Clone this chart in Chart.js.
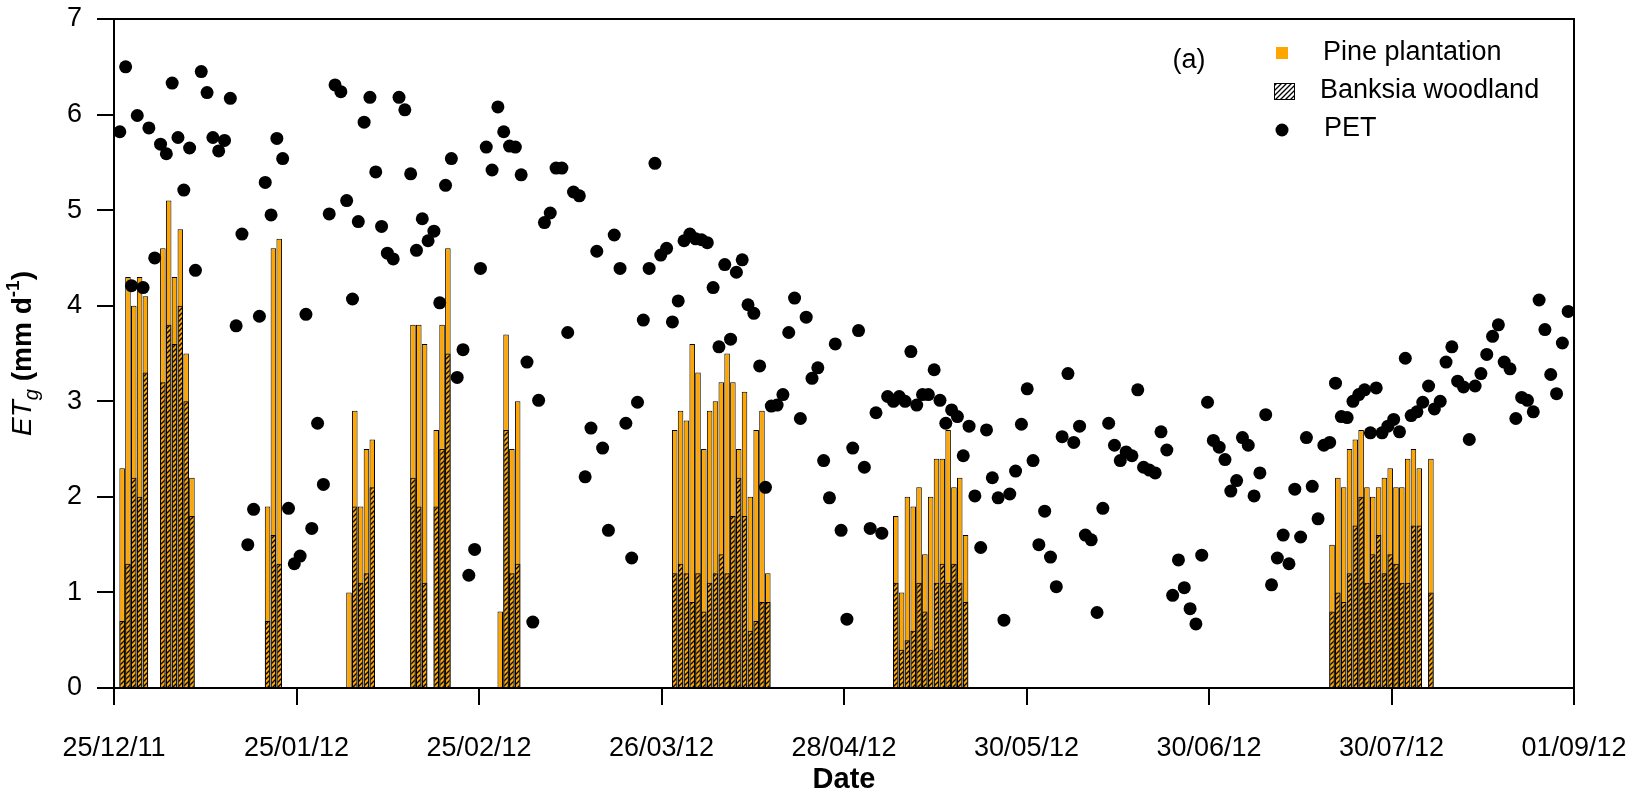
<!DOCTYPE html>
<html>
<head>
<meta charset="utf-8">
<script src="https://cdn.jsdelivr.net/npm/chart.js@4.4.0/dist/chart.umd.min.js"></script>
<style>
html,body{margin:0;padding:0;background:#fff;}
canvas{display:block;}
</style>
</head>
<body>
<canvas id="c" width="1632" height="793"></canvas>
<script>
// ---------- DATA ----------
const tickLabels = ["25/12/11","25/01/12","25/02/12","26/03/12","28/04/12","30/05/12","30/06/12","30/07/12","01/09/12"];
const axisDays = 251; // 25/12/11 -> 01/09/12

// PET, one value per day from 26/12/11 (day 1) to 31/08/12 (day 250)
const petValues = [
5.82,6.50,4.21,5.99,4.19,5.86,4.50,5.69,5.59,6.33,
5.76,5.21,5.65,4.37,6.45,6.23,5.76,5.62,5.73,6.17,
3.79,4.75,1.50,1.87,3.89,5.29,4.95,5.75,5.54,1.88,
1.30,1.38,3.91,1.67,2.77,2.13,4.96,6.31,6.24,5.10,
4.07,4.88,5.92,6.18,5.40,4.83,4.55,4.49,6.18,6.05,
5.38,4.58,4.91,4.68,4.78,4.03,5.26,5.54,3.25,3.54,
1.18,1.45,4.39,5.66,5.42,6.08,5.82,5.67,5.66,5.37,
3.41,0.69,3.01,4.87,4.97,5.44,5.44,3.72,5.19,5.15,
2.21,2.72,4.57,2.51,1.65,4.74,4.39,2.77,1.36,2.99,
3.85,4.39,5.49,4.53,4.60,3.83,4.05,4.68,4.75,4.70,
4.69,4.66,4.19,3.57,4.43,3.65,4.35,4.48,4.01,3.92,
3.37,2.10,2.95,2.96,3.07,3.72,4.08,2.82,3.88,3.24,
3.35,2.38,1.99,3.60,1.65,0.72,2.51,3.74,2.31,1.67,
2.88,1.62,3.05,3.00,3.05,3.00,3.52,2.96,3.07,3.07,
3.33,3.01,2.77,2.91,2.84,2.43,2.74,2.01,1.47,2.70,
2.20,1.99,0.71,2.03,2.27,2.76,3.13,2.38,1.50,1.85,
1.37,1.06,2.63,3.29,2.57,2.74,1.60,1.55,0.79,1.88,
2.77,2.54,2.38,2.47,2.43,3.12,2.31,2.28,2.25,2.68,
2.49,0.97,1.34,1.05,0.83,0.67,1.39,2.99,2.59,2.52,
2.39,2.06,2.17,2.62,2.54,2.01,2.25,2.86,1.08,1.36,
1.60,1.30,2.08,1.58,2.62,2.11,1.77,2.54,2.57,3.19,
2.84,2.83,3.00,3.07,3.12,2.67,3.14,2.67,2.74,2.81,
2.68,3.45,2.85,2.89,2.99,3.16,2.92,3.00,3.41,3.57,
3.21,3.15,2.60,3.16,3.29,3.49,3.68,3.80,3.41,3.34,
2.82,3.04,3.01,2.89,4.06,3.75,3.28,3.08,3.61,3.94
];

// Days (from 25/12/11) on which ETg was measured
const barDays = [
1,2,3,4,5, 8,9,10,11,12,13, 26,27,28,
40,41,42,43,44, 51,52,53, 55,56,57, 66,67,68,69,
96,97,98,99,100,101,102,103,104,105,106,107,108,109,110,111,112,
134,135,136,137,138,139,140,141,142,143,144,145,146,
209,210,211,212,213,214,215,216,217,218,219,220,221,222,223,224, 226
];
const pineValues = [
2.3,4.3,4.0,4.3,4.1, 4.6,5.1,4.3,4.8,3.5,2.2, 1.9,4.6,4.7,
1.0,2.9,1.9,2.5,2.6, 3.8,3.8,3.6, 2.7,3.8,4.6, 0.8,3.7,2.5,3.0,
2.7,2.9,2.8,3.6,3.3,2.5,2.9,3.0,3.2,3.5,3.2,2.5,3.1,2.0,2.7,2.9,1.2,
1.8,1.0,2.0,1.9,2.1,1.4,2.0,2.4,2.4,2.7,2.1,2.2,1.6,
1.5,2.2,2.1,2.5,2.6,2.7,2.1,2.0,2.1,2.2,2.3,2.1,2.1,2.4,2.5,2.3, 2.4
];
const banksiaValues = [
0.7,1.3,2.2,2.0,3.3, 3.2,3.8,3.6,4.0,3.0,1.8, 0.7,1.6,1.3,
null,1.9,1.1,1.2,2.1, 2.2,1.9,1.1, 1.9,2.5,3.5, null,2.7,1.2,1.3,
1.2,1.3,1.2,0.9,1.2,0.8,1.1,1.2,1.4,1.2,1.8,2.2,1.8,0.6,0.7,0.9,0.9,
1.1,0.4,0.5,0.6,1.1,0.8,0.4,1.1,1.3,1.1,1.3,1.1,0.9,
0.8,1.0,0.9,1.2,1.7,2.0,1.1,1.4,1.6,1.2,1.4,1.3,1.1,1.1,1.7,1.7, 1.0
];
const seriesNames = ["Pine plantation","Banksia woodland","PET"];

// ---------- STYLE ----------
const FONT = "'Liberation Sans', Arial, Helvetica, sans-serif";
const ORANGE = "#FFA500";
Chart.defaults.font.family = FONT;
Chart.defaults.color = "#000";

const canvas = document.getElementById('c');
const mainCtx = canvas.getContext('2d');

function makeHatch() {
  const n = 5;
  const pc = document.createElement('canvas');
  pc.width = n; pc.height = n;
  const p = pc.getContext('2d');
  p.strokeStyle = '#000';
  p.lineWidth = 1.3;
  p.beginPath();
  p.moveTo(0,n); p.lineTo(n,0);
  p.moveTo(-1,1); p.lineTo(1,-1);
  p.moveTo(n-1,n+1); p.lineTo(n+1,n-1);
  p.stroke();
  return mainCtx.createPattern(pc, 'repeat');
}
const hatch = makeHatch();

const BAR_SHIFT = 0.4;
const pineData = barDays.map((d,i)=>({x: d + BAR_SHIFT, y: pineValues[i]}));
const banksiaData = barDays.map((d,i)=>({x: d + BAR_SHIFT, y: banksiaValues[i]}));
const petData = petValues.map((v,i)=>({x: i + 1, y: v}));

const framePlugin = {
  id: 'frame',
  afterDraw(chart) {
    const {ctx, chartArea: a} = chart;
    ctx.save();
    ctx.strokeStyle = '#000';
    ctx.lineWidth = 2;
    ctx.beginPath();
    ctx.moveTo(a.left, a.top);
    ctx.lineTo(a.right, a.top);
    ctx.lineTo(a.right, a.bottom);
    ctx.stroke();

    // ---- legend ----
    ctx.fillStyle = '#000';
    ctx.font = "27px " + FONT;
    ctx.textBaseline = 'middle';
    ctx.textAlign = 'center';
    ctx.fillText('(a)', 1189, 61);
    ctx.textAlign = 'left';
    // pine
    ctx.fillStyle = ORANGE;
    ctx.fillRect(1276, 47, 12, 12);
    ctx.fillStyle = '#000';
    ctx.fillText(seriesNames[0], 1323, 53);
    // banksia
    ctx.fillStyle = '#fff';
    ctx.fillRect(1274, 83, 20, 16);
    ctx.fillStyle = hatch;
    ctx.fillRect(1274, 83, 20, 16);
    ctx.strokeStyle = '#000';
    ctx.lineWidth = 1;
    ctx.strokeRect(1274.5, 83.5, 20, 16);
    ctx.fillStyle = '#000';
    ctx.fillText(seriesNames[1], 1320, 91);
    // PET
    ctx.beginPath();
    ctx.arc(1282, 130, 6.5, 0, Math.PI*2);
    ctx.fill();
    ctx.fillText(seriesNames[2], 1324, 129);

    // ---- axis titles ----
    ctx.textAlign = 'center';
    ctx.textBaseline = 'alphabetic';
    ctx.font = "bold 29px " + FONT;
    ctx.fillText('Date', (a.left + a.right)/2, 788);

    // y title (rich text, rotated)
    const segs = [
      {t:'ET', f:"italic 28px " + FONT, dy:0},
      {t:'g', f:"italic 20px " + FONT, dy:7},
      {t:' ', f:"28px " + FONT, dy:0},
      {t:'(mm d', f:"bold 28px " + FONT, dy:0},
      {t:'-1', f:"bold 19px " + FONT, dy:-12},
      {t:')', f:"bold 28px " + FONT, dy:0}
    ];
    let L = 0;
    segs.forEach(s=>{ ctx.font = s.f; s.w = ctx.measureText(s.t).width; L += s.w; });
    ctx.translate(31, (a.top + a.bottom)/2);
    ctx.rotate(-Math.PI/2);
    ctx.textAlign = 'left';
    let x = -L/2;
    segs.forEach(s=>{ ctx.font = s.f; ctx.fillText(s.t, x, s.dy); x += s.w; });
    ctx.restore();
  }
};

new Chart(canvas, {
  type: 'bar',
  data: {
    datasets: [
      {
        type: 'scatter', label: seriesNames[2], data: petData,
        backgroundColor: '#000', borderWidth: 0, pointRadius: 6.5, pointHoverRadius: 6.5,
        order: 0
      },
      {
        type: 'bar', label: seriesNames[1], data: banksiaData,
        backgroundColor: hatch, borderColor: '#000', borderWidth: 1,
        grouped: false, barPercentage: 0.95, categoryPercentage: 1,
        order: 1
      },
      {
        type: 'bar', label: seriesNames[0], data: pineData,
        backgroundColor: ORANGE, borderColor: '#000', borderWidth: 1,
        grouped: false, barPercentage: 0.95, categoryPercentage: 1,
        order: 2
      }
    ]
  },
  options: {
    responsive: false,
    animation: false,
    devicePixelRatio: 1,
    layout: { padding: { top: 19, right: 58, left: 0, bottom: 0 } },
    plugins: { legend: { display: false }, tooltip: { enabled: false }, title: { display: false } },
    scales: {
      x: {
        type: 'linear', min: 0, max: axisDays, offset: false,
        afterBuildTicks: s => { s.ticks = tickLabels.map((l,i)=>({value: i*axisDays/(tickLabels.length-1)})); },
        afterFit: s => { s.height = 105; s.paddingLeft = 0; s.paddingRight = 0; },
        ticks: {
          callback: (v, i) => tickLabels[i],
          font: { size: 27 }, color: '#000', padding: 27,
          maxRotation: 0, minRotation: 0, autoSkip: false
        },
        grid: { display: true, offset: false, drawOnChartArea: false, drawTicks: true, tickLength: 17, color: '#000', lineWidth: 2 },
        border: { display: true, color: '#000', width: 2 }
      },
      y: {
        type: 'linear', min: 0, max: 7,
        afterFit: s => { s.width = 114; s.paddingTop = 0; s.paddingBottom = 0; },
        ticks: { stepSize: 1, font: { size: 27 }, color: '#000', padding: 15 },
        grid: { display: true, drawOnChartArea: false, drawTicks: true, tickLength: 17, color: '#000', lineWidth: 2 },
        border: { display: true, color: '#000', width: 2 }
      }
    }
  },
  plugins: [framePlugin]
});
</script>
</body>
</html>
